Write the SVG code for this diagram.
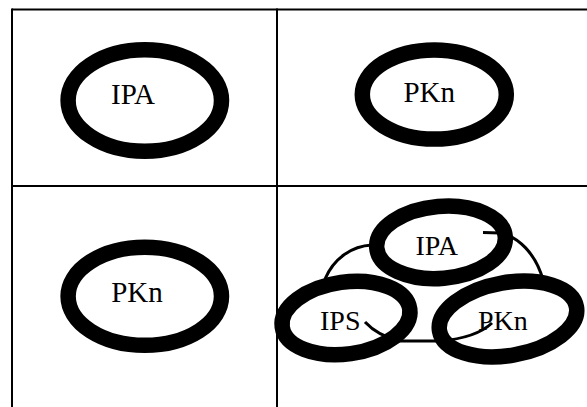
<svg xmlns="http://www.w3.org/2000/svg" width="587" height="407" viewBox="0 0 587 407">
<style>
.grid{stroke:#000;stroke-width:2;fill:none}
.ring{fill:none;stroke:#000;stroke-width:15.5}
.arc{fill:none;stroke:#000;stroke-width:3}
.lbl{font-family:"Liberation Serif","Times New Roman",serif;font-size:29px;fill:#000}
.lbl2{font-family:"Liberation Serif","Times New Roman",serif;font-size:28px;fill:#000}
</style>
<rect width="587" height="407" fill="#fff"/>
<g id="table" class="grid">
<line x1="12" y1="9.5" x2="587" y2="9.5"/>
<line x1="12" y1="186" x2="587" y2="186"/>
<line x1="12" y1="8.5" x2="12" y2="407"/>
<line x1="277" y1="8.5" x2="277" y2="407"/>
</g>
<g id="connectors">
<path class="arc" d="M483 232.5 L500 233 C518 236 536 254 543 280"/>
<path class="arc" d="M372 245 C352 246 334 258 325 279"/>
<path class="arc" d="M365 322 Q378 336 400 341 L440 341 Q476 338 492 323"/>
</g>
<g id="node-ipa-1">
<ellipse class="ring" cx="144.8" cy="100.5" rx="76.7" ry="50.7"/>
<text class="lbl" x="111" y="104">IPA</text>
</g>
<g id="node-pkn-1">
<ellipse class="ring" cx="434.3" cy="94.5" rx="72" ry="44.6"/>
<text class="lbl" x="403.4" y="101.7">PKn</text>
</g>
<g id="node-pkn-2">
<ellipse class="ring" cx="144.8" cy="296.3" rx="76.7" ry="49"/>
<text class="lbl" x="111.2" y="301.7">PKn</text>
</g>
<g id="node-ipa-2">
<ellipse class="ring" cx="441" cy="242.3" rx="64.5" ry="36" transform="rotate(-5 441 242.3)"/>
<text class="lbl2" x="415.5" y="254.5">IPA</text>
</g>
<g id="node-ips">
<ellipse class="ring" cx="346" cy="318" rx="64.4" ry="36" transform="rotate(-8 346 318)"/>
<text class="lbl2" x="320" y="329.5">IPS</text>
</g>
<g id="node-pkn-3">
<ellipse class="ring" cx="508" cy="319" rx="69.5" ry="36.5" transform="rotate(-10 508 319)"/>
<text class="lbl2" x="478" y="330">PKn</text>
</g>
</svg>
